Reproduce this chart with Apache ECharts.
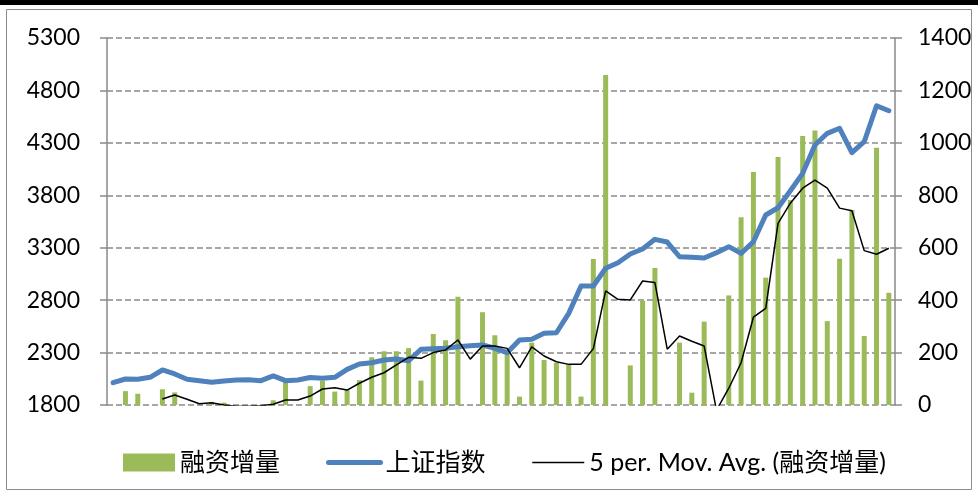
<!DOCTYPE html>
<html>
<head>
<meta charset="utf-8">
<script src="https://cdn.jsdelivr.net/npm/echarts@6/dist/echarts.min.js"></script>
<style>
html,body{margin:0;padding:0;background:#fff;}
#chart{width:978px;height:495px;}
</style>
</head>
<body>
<div id="chart"></div>
<script>
// ---- data ----
const categories = Array.from({length: 64}, (_, i) => String(i + 1));
const leftTicks = [1800, 2300, 2800, 3300, 3800, 4300, 4800, 5300];
const rightTicks = [0, 200, 400, 600, 800, 1000, 1200, 1400];

const financingIncrease = [
  -27, 53, 43, -14, 60, 48, -27, -47, 11, 9,
  -4, -4, -4, 18, 89, -4, 72, 92, 51, 60,
  95, 182, 205, 205, 217, 93, 271, 247, 413, -155,
  354, 266, 202, 32, 238, 172, 161, 155, 32, 557,
  1259, -5, 151, 398, 523, 0, 238, 47, 318, -701,
  418, 716, 889, 486, 946, 782, 1026, 1047, 320, 558,
  744, 263, 981, 428
];

const shanghaiIndex = [
  2013, 2048, 2045, 2064, 2134, 2096, 2045, 2032, 2016, 2029,
  2038, 2041, 2032, 2077, 2032, 2038, 2062, 2055, 2064, 2140,
  2191, 2203, 2229, 2239, 2222, 2331, 2337, 2341, 2356, 2365,
  2372, 2341, 2299, 2420, 2427, 2484, 2489, 2674, 2935, 2935,
  3104, 3157, 3240, 3288, 3380, 3354, 3214, 3208, 3202, 3252,
  3310, 3246, 3357, 3612, 3681, 3844, 4009, 4279, 4391, 4439,
  4206, 4311, 4654, 4606
];

const movingAvg = [
  null, null, null, null, 23, 38, 22, 5, 9, 0,
  -5, -5, -3, 3, 19, 19, 34, 61, 66, 57,
  83, 106, 123, 153, 182, 178, 200, 210, 248, 175,
  225, 225, 216, 142, 222, 187, 165, 155, 155, 215,
  435, 403, 401, 473, 467, 213, 263, 243, 225, -20,
  64, 161, 335, 369, 693, 770, 827, 858, 827, 751,
  741, 589, 575, 598
];

const seriesNames = ['融资增量', '上证指数', '5 per. Mov. Avg. (融资增量)'];

// ---- chart ----
const chart = echarts.init(document.getElementById('chart'), null, {renderer: 'canvas'});
const FONT = 'Lato, "Noto Sans CJK SC", sans-serif';
const gridColor = '#8a8a8a';
const plain = v => String(v);
const noSymbol = {color: 'rgba(0,0,0,0)', borderWidth: 0, opacity: 0};

chart.setOption({
  animation: false,
  backgroundColor: '#ffffff',
  graphic: [
    {type: 'rect', shape: {x: 0, y: 0, width: 978, height: 5}, style: {fill: '#000'}, silent: true},
    {type: 'rect', shape: {x: 6.5, y: 9.5, width: 965, height: 480}, style: {fill: null, stroke: '#8c8c8c', lineWidth: 1}, silent: true}
  ],
  grid: {left: 107, right: 83, top: 38, bottom: 90, containLabel: false},
  legend: {
    data: [
      {name: seriesNames[0], icon: 'rect'},
      {name: seriesNames[1], itemStyle: noSymbol, lineStyle: {width: 5, color: '#4F81BD', cap: 'round'}},
      {name: seriesNames[2], itemStyle: noSymbol, lineStyle: {width: 1.5, color: '#000'}}
    ],
    left: 118,
    top: 445,
    itemWidth: 52,
    itemHeight: 18,
    itemGap: 46,
    textStyle: {fontFamily: FONT, fontSize: 25, color: '#000'}
  },
  xAxis: {
    type: 'category',
    data: categories,
    boundaryGap: true,
    axisLine: {show: false},
    axisTick: {show: false},
    axisLabel: {show: false},
    splitLine: {show: false}
  },
  yAxis: [
    {
      type: 'value',
      position: 'left',
      min: leftTicks[0],
      max: leftTicks[leftTicks.length - 1],
      interval: leftTicks[1] - leftTicks[0],
      axisLine: {show: true, lineStyle: {color: gridColor, width: 1.5}},
      axisTick: {show: true, inside: false, length: 7, lineStyle: {color: gridColor, width: 1.5}},
      axisLabel: {fontFamily: FONT, fontSize: 23, color: '#000', margin: 27, formatter: plain},
      splitLine: {show: true, lineStyle: {color: gridColor, width: 1.5, type: [6, 3]}}
    },
    {
      type: 'value',
      position: 'right',
      min: rightTicks[0],
      max: rightTicks[rightTicks.length - 1],
      interval: rightTicks[1] - rightTicks[0],
      axisLine: {show: true, lineStyle: {color: gridColor, width: 1.5}},
      axisTick: {show: true, inside: false, length: 7, lineStyle: {color: gridColor, width: 1.5}},
      axisLabel: {fontFamily: FONT, fontSize: 23, color: '#000', margin: 23, formatter: plain},
      splitLine: {show: false}
    }
  ],
  series: [
    {
      name: seriesNames[0],
      type: 'bar',
      yAxisIndex: 1,
      data: financingIncrease,
      barWidth: 5,
      itemStyle: {color: '#9BBB59'},
      clip: true
    },
    {
      name: seriesNames[1],
      type: 'line',
      yAxisIndex: 0,
      data: shanghaiIndex,
      symbol: 'none',
      showSymbol: false,
      lineStyle: {color: '#4F81BD', width: 5, cap: 'round', join: 'round'},
      itemStyle: {color: '#4F81BD'},
      clip: true
    },
    {
      name: seriesNames[2],
      type: 'line',
      yAxisIndex: 1,
      data: movingAvg,
      symbol: 'none',
      showSymbol: false,
      connectNulls: false,
      lineStyle: {color: '#000', width: 1.5},
      itemStyle: {color: '#000'},
      clip: true
    }
  ]
});
</script>
</body>
</html>
